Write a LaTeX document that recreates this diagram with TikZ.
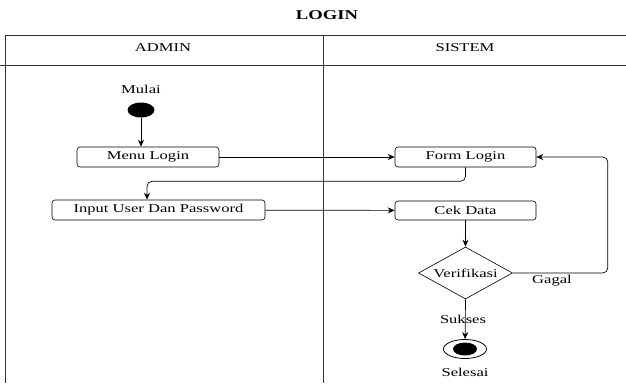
\documentclass[tikz,border=0pt]{standalone}
\usepackage{fontspec}
\setmainfont{Liberation Serif}[FakeStretch=1.38]
\usetikzlibrary{arrows.meta,shapes.geometric}
\begin{document}
\begin{tikzpicture}[x=1pt,y=-1pt,
  act/.style={draw, line width=0.6pt, rounded corners=3pt, minimum height=20pt, inner sep=0pt, font=\fontsize{12}{14}\selectfont},
  arr/.style={-{Stealth[length=7pt,width=6pt]}, line width=0.7pt},
  lbl/.style={font=\fontsize{12}{14}\selectfont, inner sep=0pt},
  lane/.style={line width=0.8pt, draw=black!80}]
\useasboundingbox (0,0) rectangle (626,383);
\node[font=\bfseries\fontsize{13.5}{15}\selectfont] (title) at (327,15) {LOGIN};
\draw[lane] (5,383) -- (5,35) -- (626,35);
\draw[lane] (323,35) -- (323,383);
\draw[lane] (0,65) -- (626,65);
\node[lbl] (admin) at (163,48) {ADMIN};
\node[lbl] (sistem) at (465,48) {SISTEM};
\node[lbl] (mulai) at (141,89) {Mulai};
\node[ellipse, fill=black, minimum width=27pt, minimum height=15pt, inner sep=0pt] (start) at (141,110) {};
\node[act, minimum width=142pt] (menu) at (148,157) {Menu Login};
\node[act, minimum width=141pt] (form) at (465.5,157) {Form Login};
\node[act, minimum width=213pt] (input) at (158.5,210) {Input User Dan Password};
\node[act, minimum width=141pt, minimum height=19pt] (cek) at (465.5,210.5) {Cek Data};
\node[diamond, draw, line width=0.6pt, shape aspect=1.8, minimum width=94pt, minimum height=52pt, inner sep=0pt, font=\fontsize{12}{14}\selectfont] (verif) at (465.5,273) {Verifikasi};
\node[ellipse, draw, line width=0.8pt, minimum width=43pt, minimum height=19pt, inner sep=0pt] (end) at (465,349) {};
\node[ellipse, fill=black, minimum width=24pt, minimum height=13pt, inner sep=0pt] (endin) at (465,349) {};
\node[lbl] (gagal) at (552,281) {Gagal};
\node[lbl] (sukses) at (463,319) {Sukses};
\node[lbl] (selesai) at (465,372) {Selesai};
\draw[arr] (start) -- (start |- menu.north);
\draw[arr] (menu) -- (form);
\draw[arr, rounded corners=5pt] (form.south) -- ++(0,14) -| ([xshift=-11.5pt]input.north);
\draw[arr] (input) -- (cek);
\draw[arr] (cek) -- (verif);
\draw[arr, rounded corners=5pt] (verif.east) -- ++(95,0) |- (form.east);
\draw[arr] (verif.south) -- (end);
\end{tikzpicture}
\end{document}
